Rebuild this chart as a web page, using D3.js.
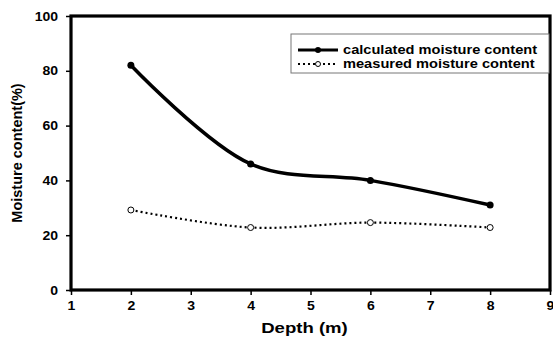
<!DOCTYPE html>
<html>
<head>
<meta charset="utf-8">
<script src="https://cdn.jsdelivr.net/npm/d3@7"></script>
<style>
  body { margin: 0; background: #fff; }
  svg { display: block; font-family: "Liberation Sans", Arial, sans-serif; font-weight: bold; }
</style>
</head>
<body>
<svg id="chart" width="553" height="338"></svg>
<script>
const depths = [2, 4, 6, 8];
const calculated = [82, 46, 40, 31];
const measured = [29.2, 22.8, 24.6, 22.8];
const xTicks = [1, 2, 3, 4, 5, 6, 7, 8, 9];
const yTicks = [0, 20, 40, 60, 80, 100];
const seriesNames = ["calculated moisture content", "measured moisture content"];

const svg = d3.select("#chart");
const margin = { top: 16, right: 3, bottom: 48, left: 71 };
const width = +svg.attr("width");
const height = +svg.attr("height");
const innerW = width - margin.left - margin.right;
const innerH = height - margin.top - margin.bottom;

const g = svg.append("g").attr("transform", `translate(${margin.left},${margin.top})`);

const x = d3.scaleLinear().domain([1, 9]).range([0, innerW]);
const y = d3.scaleLinear().domain([0, 100]).range([innerH, 0]);

// frame
g.append("rect")
  .attr("width", innerW).attr("height", innerH)
  .attr("fill", "none").attr("stroke", "#000").attr("stroke-width", 3.2);

const xAxis = g.append("g").attr("transform", `translate(0,${innerH})`)
  .call(d3.axisBottom(x).tickValues(xTicks).tickSize(5).tickPadding(6).tickFormat(d3.format("d")));
const yAxis = g.append("g")
  .call(d3.axisLeft(y).tickValues(yTicks).tickSize(5).tickPadding(7));
[xAxis, yAxis].forEach(a => {
  a.select(".domain").remove();
  a.selectAll("line").attr("stroke", "#000").attr("stroke-width", 1.5);
  a.selectAll("text").attr("fill", "#000")
    .style("font-size", "13px").style("font-weight", "bold")
    .style("font-family", "'Liberation Sans', Arial, sans-serif")
    .attr("transform", "scale(1.08,1)");
});

// the original picture is stretched a little sideways
svg.append("text")
  .attr("transform", `translate(${margin.left + innerW / 2 - 6},333) scale(1.28,1)`)
  .attr("text-anchor", "middle").style("font-size", "14.5px")
  .text("Depth (m)");

svg.append("text")
  .attr("transform", `translate(22,${margin.top + innerH / 2}) rotate(-90)`)
  .attr("text-anchor", "middle").style("font-size", "14.5px")
  .text("Moisture content(%)");

const line = d3.line()
  .x(d => x(d[0])).y(d => y(d[1]))
  .curve(d3.curveCatmullRom.alpha(0.5));

const calcPts = depths.map((d, i) => [d, calculated[i]]);
const measPts = depths.map((d, i) => [d, measured[i]]);

g.append("path").datum(measPts).attr("d", line)
  .attr("fill", "none").attr("stroke", "#000").attr("stroke-width", 2.2)
  .attr("stroke-dasharray", "2,3");
g.append("path").datum(calcPts).attr("d", line)
  .attr("fill", "none").attr("stroke", "#000").attr("stroke-width", 3.5);

g.selectAll(".calc").data(calcPts).join("circle")
  .attr("cx", d => x(d[0])).attr("cy", d => y(d[1])).attr("r", 3.5).attr("fill", "#000");
g.selectAll(".meas").data(measPts).join("circle")
  .attr("cx", d => x(d[0])).attr("cy", d => y(d[1])).attr("r", 3)
  .attr("fill", "#fff").attr("stroke", "#000").attr("stroke-width", 1);

// legend
const lg = svg.append("g").attr("transform", "translate(291,34)");
lg.append("rect").attr("width", 258).attr("height", 39)
  .attr("fill", "#fff").attr("stroke", "#777").attr("stroke-width", 1);
seriesNames.forEach((name, i) => {
  const yy = 16 + i * 14;
  const row = lg.append("g").attr("transform", `translate(0,${yy})`);
  if (i === 0) {
    row.append("line").attr("x1", 7).attr("x2", 47).attr("stroke", "#000").attr("stroke-width", 3);
    row.append("circle").attr("cx", 27).attr("r", 3).attr("fill", "#000");
  } else {
    row.append("line").attr("x1", 7).attr("x2", 47).attr("stroke", "#000").attr("stroke-width", 2)
      .attr("stroke-dasharray", "2,3");
    row.append("circle").attr("cx", 27).attr("r", 2.5).attr("fill", "#fff").attr("stroke", "#000");
  }
  row.append("text").attr("transform", "translate(52,0) scale(1.17,1)")
    .attr("dy", "0.35em").style("font-size", "12.5px").text(name);
});
</script>
</body>
</html>
